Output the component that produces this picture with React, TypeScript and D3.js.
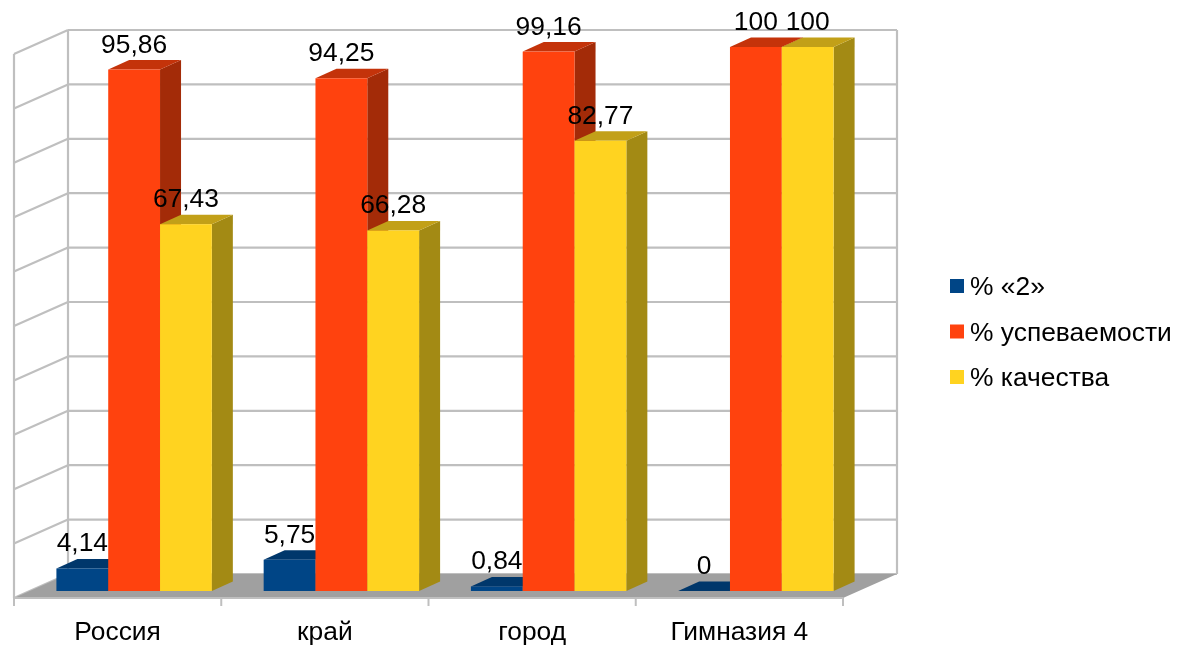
import React from "react";
import * as d3 from "d3";

const categories = ["Россия", "край", "город", "Гимназия 4"];
const seriesNames = ["% «2»", "% успеваемости", "% качества"];
const twos = [4.14, 5.75, 0.84, 0];
const success = [95.86, 94.25, 99.16, 100];
const quality = [67.43, 66.28, 82.77, 100];
const valueLabels = [
  ["4,14", "5,75", "0,84", "0"],
  ["95,86", "94,25", "99,16", "100"],
  ["67,43", "66,28", "82,77", "100"],
];
const yTicks = d3.range(0, 101, 10);
const faceColors = ["#004586", "#ff420e", "#ffd320"];
const topColors = ["#00376b", "#c4330a", "#c2a018"];
const sideColors = ["#002f5c", "#a32b08", "#a38a14"];

const W = 1177, H = 645;
const FRONT_LEFT = 14, FRONT_RIGHT = 843, FLOOR_FRONT = 598;
const WALL_DX = 54, WALL_DY = 24;
const BAR_OFFSET_X = 16.5, BAR_OFFSET_Y = 7;
const BAR_DX = 21, BAR_DY = 9.5;
const FONT = "'Liberation Sans', Arial, sans-serif";
const GRID = "#bfbfbf";
const FONT_SIZE = 26.4;

export default function App() {
  const x0 = d3.scaleBand<string>().domain(categories).range([FRONT_LEFT, FRONT_RIGHT]);
  const x1 = d3.scaleBand<number>().domain([0, 1, 2]).range([0, x0.bandwidth() * 0.75]);
  const groupInset = x0.bandwidth() * 0.125 + BAR_OFFSET_X;
  const yBar = d3.scaleLinear().domain([0, 100]).range([FLOOR_FRONT - BAR_OFFSET_Y, 47]);
  const yWall = d3.scaleLinear().domain([0, 100]).range([574, 30]);
  const series = [twos, success, quality];
  const poly = (p: number[][]) => p.map((q) => q.join(",")).join(" ");
  const backL = FRONT_LEFT + WALL_DX, backR = FRONT_RIGHT + WALL_DX + 0;

  return (
    <svg width={W} height={H} viewBox={`0 0 ${W} ${H}`} style={{ position: "absolute", left: 0, top: 0, background: "#fff", filter: "blur(0.45px)" }} fontFamily={FONT}>
      {yTicks.map((t) => (
        <g key={t} fill="none" stroke={GRID} strokeWidth={2.2}>
          <line x1={backL} x2={backR} y1={yWall(t)} y2={yWall(t)} />
          <line x1={backL} x2={FRONT_LEFT} y1={yWall(t)} y2={yWall(t) + WALL_DY} />
        </g>
      ))}
      <line x1={backL} x2={backL} y1={yWall(100)} y2={yWall(0)} stroke={GRID} strokeWidth={2.2} />
      <line x1={FRONT_LEFT} x2={FRONT_LEFT} y1={yWall(100) + WALL_DY} y2={yWall(0) + WALL_DY} stroke={GRID} strokeWidth={2.2} />
      <line x1={backR} x2={backR} y1={yWall(100)} y2={yWall(0)} stroke={GRID} strokeWidth={2.2} />
      <polygon
        points={poly([[FRONT_LEFT, FLOOR_FRONT], [backL, yWall(0)], [backR, yWall(0)], [FRONT_RIGHT, FLOOR_FRONT]])}
        fill="#a0a0a0"
      />
      <line x1={FRONT_LEFT} x2={FRONT_RIGHT} y1={FLOOR_FRONT} y2={FLOOR_FRONT} stroke={GRID} strokeWidth={2} />
      {d3.range(0, categories.length + 1).map((i) => {
        const tx = FRONT_LEFT + i * x0.step();
        return <line key={i} x1={tx} x2={tx} y1={FLOOR_FRONT} y2={FLOOR_FRONT + 8} stroke={GRID} strokeWidth={2} />;
      })}
      {categories.map((c) => {
        const ci = categories.indexOf(c);
        return (
          <g key={c}>
            {series.map((vals, si) => {
              const bx = x0(c)! + groupInset + x1(si)!;
              const bw = x1.bandwidth();
              const top = yBar(vals[ci]);
              const base = yBar(0);
              return (
                <g key={si}>
                  <polygon
                    points={poly([[bx + bw, top], [bx + bw + BAR_DX, top - BAR_DY], [bx + bw + BAR_DX, base - BAR_DY], [bx + bw, base]])}
                    fill={sideColors[si]}
                  />
                  <polygon
                    points={poly([[bx, top], [bx + BAR_DX, top - BAR_DY], [bx + bw + BAR_DX, top - BAR_DY], [bx + bw, top]])}
                    fill={topColors[si]}
                  />
                  <rect x={bx} y={top} width={bw} height={base - top} fill={faceColors[si]} />
                </g>
              );
            })}
          </g>
        );
      })}
      {categories.map((c, ci) =>
        series.map((vals, si) => (
          <text
            key={`${c}-${si}`}
            x={x0(c)! + groupInset + x1(si)! + x1.bandwidth() / 2}
            y={yBar(vals[ci]) - 17}
            textAnchor="middle"
            fontSize={FONT_SIZE}
            fill="#000"
          >
            {valueLabels[si][ci]}
          </text>
        ))
      )}
      {categories.map((c) => (
        <text key={c} x={x0(c)! + x0.bandwidth() / 2} y={640} textAnchor="middle" fontSize={FONT_SIZE} fill="#000">
          {c}
        </text>
      ))}
      {seriesNames.map((n, i) => (
        <g key={n}>
          <rect x={950} y={279 + i * 45.5} width={14} height={14} fill={faceColors[i]} />
          <text x={970} y={295 + i * 45.5} fontSize={FONT_SIZE} fill="#000">
            {n}
          </text>
        </g>
      ))}
    </svg>
  );
}
